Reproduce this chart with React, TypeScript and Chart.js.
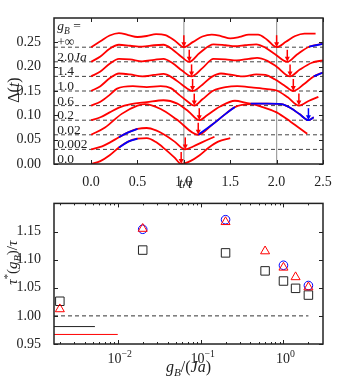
import React, { useEffect, useRef } from 'react';
import { Chart, registerables } from 'chart.js';
Chart.register(...registerables);

const FONT = '"Liberation Serif", "Times New Roman", serif';
const RED = '#ff0000';
const BLUE = '#0000ff';
const INK = '#222222';

// ---------- top panel data ----------
const offsets = [0, 0.03, 0.06, 0.09, 0.12, 0.15, 0.18, 0.21, 0.24];
const t0 = [0, 0.1, 0.2, 0.3, 0.4, 0.5, 0.6, 0.7, 0.8, 0.9, 0.971, 1.07, 1.17, 1.27, 1.37, 1.5];
const d0 = [0, 0.006, 0.018, 0.034, 0.046, 0.052, 0.053, 0.045, 0.03, 0.013, 0, 0.006, 0.018, 0.034, 0.046, 0.053];
const t1 = [0, 0.1, 0.2, 0.3, 0.4, 0.5, 0.6, 0.7, 0.8, 0.9, 1.015, 1.1, 1.2, 1.33];
const d1 = [0, 0.005, 0.014, 0.025, 0.035, 0.042, 0.044, 0.039, 0.029, 0.016, 0, 0.006, 0.015, 0.026];
const t2 = [0, 0.15, 0.33, 0.5, 0.58, 0.75, 0.92, 1.155, 1.3, 1.45, 1.55, 1.72, 1.85, 2.0, 2.15, 2.33];
const d2 = [0, 0.015, 0.043, 0.06, 0.063, 0.053, 0.032, 0, 0.02, 0.043, 0.057, 0.063, 0.057, 0.046, 0.027, 0.002];
const t3 = [0, 0.1, 0.2, 0.3, 0.43, 0.6, 0.78, 0.93, 1.05, 1.166, 1.25, 1.39, 1.55, 1.72, 1.9, 2.05, 2.15, 2.25, 2.343, 2.4];
const d3 = [0, 0.006, 0.016, 0.026, 0.033, 0.037, 0.041, 0.034, 0.018, 0, 0.01, 0.028, 0.04, 0.034, 0.034, 0.033, 0.025, 0.012, 0, 0.006];
const t4 = [0, 0.1, 0.2, 0.28, 0.45, 0.6, 0.75, 0.86, 0.95, 1.03, 1.112, 1.2, 1.32, 1.45, 1.575, 1.75, 1.9, 2.0, 2.12, 2.24, 2.35, 2.45];
const d4 = [0, 0.008, 0.022, 0.035, 0.04, 0.038, 0.04, 0.036, 0.022, 0.01, 0, 0.013, 0.031, 0.038, 0.04, 0.037, 0.034, 0.031, 0.017, 0, 0.01, 0.018];
const t5 = [0, 0.1, 0.2, 0.3, 0.42, 0.55, 0.68, 0.78, 0.88, 0.98, 1.094, 1.2, 1.3, 1.4, 1.52, 1.65, 1.78, 1.88, 1.98, 2.08, 2.18, 2.3, 2.4, 2.5];
const d5 = [0, 0.01, 0.026, 0.036, 0.034, 0.03, 0.033, 0.035, 0.027, 0.013, 0, 0.013, 0.029, 0.036, 0.033, 0.03, 0.034, 0.033, 0.024, 0.012, 0, 0.015, 0.03, 0.038];
const t6 = [0, 0.1, 0.2, 0.3, 0.42, 0.55, 0.68, 0.78, 0.88, 0.98, 1.083, 1.2, 1.32, 1.45, 1.57, 1.7, 1.79, 1.9, 2.0, 2.145, 2.25, 2.38, 2.5];
const d6 = [0, 0.01, 0.026, 0.036, 0.035, 0.031, 0.034, 0.036, 0.027, 0.012, 0, 0.017, 0.036, 0.035, 0.033, 0.036, 0.038, 0.032, 0.02, 0, 0.014, 0.028, 0.033];
const t7 = [0, 0.1, 0.2, 0.3, 0.42, 0.55, 0.68, 0.78, 0.88, 0.97, 1.058, 1.17, 1.32, 1.45, 1.55, 1.66, 1.78, 1.88, 1.98, 2.115, 2.22, 2.35, 2.5];
const d7 = [0, 0.011, 0.027, 0.035, 0.033, 0.031, 0.034, 0.035, 0.025, 0.011, 0, 0.018, 0.036, 0.034, 0.032, 0.034, 0.036, 0.029, 0.016, 0, 0.015, 0.031, 0.037];
const t8 = [0, 0.1, 0.2, 0.3, 0.4, 0.5, 0.6, 0.7, 0.8, 0.9, 1.0, 1.1, 1.2, 1.3, 1.4, 1.5, 1.6, 1.7, 1.8, 1.9, 2.0, 2.1, 2.2, 2.3, 2.42];
const d8 = [0, 0.012, 0.024, 0.029, 0.025, 0.021, 0.023, 0.027, 0.025, 0.014, 0, 0.011, 0.022, 0.026, 0.023, 0.018, 0.021, 0.026, 0.026, 0.015, 0, 0.011, 0.023, 0.028, 0.028];
const curveT = [t0, t1, t2, t3, t4, t5, t6, t7, t8];
const curveD = [d0, d1, d2, d3, d4, d5, d6, d7, d8];
// blue segments: [curve index, from t, to t]
const blueSegs: [number, number, number][] = [
  [0, 0.3, 0.5], [1, 0.3, 0.5], [2, 1.155, 1.55], [3, 1.72, 2.4], [5, 2.4, 2.5], [7, 2.35, 2.5],
];
// arrow times (tau*) per curve, and whether blue
const arrowT = [[0.971], [1.015], [1.155], [1.166, 2.343], [1.112, 2.24], [1.094, 2.18], [1.083, 2.145], [1.058, 2.115], [1.0, 2.0]];
const arrowBlue = [[0], [0], [0], [0, 1], [0, 0], [0, 0], [0, 0], [0, 0], [0, 0]];
const vLines = [1.0, 2.0];
const topXTicks = [0, 0.5, 1.0, 1.5, 2.0, 2.5];
const topYTicks = [0, 0.05, 0.1, 0.15, 0.2, 0.25];

type Seg = { t: string; i?: boolean; sub?: boolean; sup?: boolean };
const gLabels: Seg[][] = [
  [{ t: '0.0' }], [{ t: '0.002' }], [{ t: '0.02' }], [{ t: '0.2' }], [{ t: '0.6' }],
  [{ t: '1.0' }], [{ t: '1.4' }], [{ t: '2.0' }, { t: 'Ja', i: true }], [{ t: '+∞' }],
];
const gHeader: Seg[] = [{ t: 'g', i: true }, { t: 'B', i: true, sub: true }, { t: ' =' }];

// ---------- bottom panel data ----------
const gB = [0.002, 0.02, 0.2, 0.6, 1.0, 1.4, 2.0];
const squares = [1.026, 1.117, 1.112, 1.080, 1.062, 1.049, 1.037];
const triangles = [1.012, 1.155, 1.167, 1.115, 1.086, 1.069, 1.051];
const gCirc = [0.02, 0.2, 1.0, 2.0];
const circles = [1.154, 1.171, 1.090, 1.054];
const blackRef = { from: 0.0017, to: 0.0053, y: 0.981 };
const redRef = { from: 0.0017, to: 0.01, y: 0.967 };
const unityLine = { from: 0.0017, to: 2.0, y: 1.0 };
const botYTicks = [0.95, 1.0, 1.05, 1.1, 1.15];
const botXMajor = [0.01, 0.1, 1];
const botXMajorExp = ['−2', '−1', '0'];
const botXMinor = [0.002, 0.003, 0.004, 0.005, 0.006, 0.007, 0.008, 0.009,
  0.02, 0.03, 0.04, 0.05, 0.06, 0.07, 0.08, 0.09,
  0.2, 0.3, 0.4, 0.5, 0.6, 0.7, 0.8, 0.9, 2];

// ---------- helpers ----------
function segFont(s: Seg, size: number) {
  const sz = s.sub || s.sup ? size * 0.7 : size;
  return `${s.i ? 'italic ' : ''}${sz}px ${FONT}`;
}
function measureRich(ctx: CanvasRenderingContext2D, segs: Seg[], size: number) {
  let w = 0;
  for (const s of segs) { ctx.font = segFont(s, size); w += ctx.measureText(s.t).width; }
  return w;
}
function drawRich(ctx: CanvasRenderingContext2D, segs: Seg[], x: number, y: number, size: number, align: 'left' | 'center') {
  const w = measureRich(ctx, segs, size);
  let cx = align === 'center' ? x - w / 2 : x;
  ctx.textAlign = 'left';
  ctx.textBaseline = 'alphabetic';
  for (const s of segs) {
    ctx.font = segFont(s, size);
    const dy = s.sub ? size * 0.28 : s.sup ? -size * 0.42 : 0;
    ctx.fillText(s.t, cx, y + dy);
    cx += ctx.measureText(s.t).width;
  }
}
function frameAndTicks(ctx: CanvasRenderingContext2D, a: any, xs: any, ys: any, xMaj: number[], xMin: number[], yMaj: number[]) {
  ctx.strokeStyle = INK;
  ctx.lineWidth = 1;
  ctx.beginPath();
  const tick = (len: number) => (v: number) => {
    const px = Math.round(xs.getPixelForValue(v)) + 0.5;
    ctx.moveTo(px, a.bottom); ctx.lineTo(px, a.bottom - len);
    ctx.moveTo(px, a.top); ctx.lineTo(px, a.top + len);
  };
  xMaj.forEach(tick(4));
  xMin.forEach(tick(2));
  yMaj.forEach((v) => {
    const py = Math.round(ys.getPixelForValue(v)) + 0.5;
    ctx.moveTo(a.left, py); ctx.lineTo(a.left + 4, py);
    ctx.moveTo(a.right, py); ctx.lineTo(a.right - 4, py);
  });
  ctx.stroke();
  ctx.lineWidth = 1.5;
  ctx.strokeRect(a.left, a.top, a.right - a.left, a.bottom - a.top);
}

const topPlugin = {
  id: 'topDeco',
  afterDatasetsDraw(chart: any) {
    const { ctx, chartArea: a, scales: { x, y } } = chart;
    ctx.save();
    arrowT.forEach((list, i) => list.forEach((t, j) => {
      const px = x.getPixelForValue(t);
      const py = y.getPixelForValue(offsets[i]);
      const col = arrowBlue[i][j] ? BLUE : RED;
      ctx.strokeStyle = col; ctx.fillStyle = col; ctx.lineWidth = 1.5;
      ctx.beginPath(); ctx.moveTo(px, py - 12); ctx.lineTo(px, py - 4); ctx.stroke();
      ctx.beginPath(); ctx.moveTo(px - 2.5, py - 5); ctx.lineTo(px + 2.5, py - 5); ctx.lineTo(px, py); ctx.closePath(); ctx.fill();
    }));
    frameAndTicks(ctx, a, x, y, topXTicks, [], topYTicks);
    ctx.fillStyle = INK;
    gLabels.forEach((segs, i) => {
      drawRich(ctx, segs, x.getPixelForValue(-0.365), y.getPixelForValue(offsets[i] + 0.002), 13.5, 'left');
    });
    drawRich(ctx, gHeader, x.getPixelForValue(-0.365), y.getPixelForValue(0.275), 13.5, 'left');
    drawRich(ctx, [{ t: 't', i: true }, { t: '/' }, { t: 'τ', i: true }], (a.left + a.right) / 2 - 3, a.bottom + 24, 15, 'center');
    ctx.save();
    ctx.translate(19, (a.top + a.bottom) / 2 - 1);
    ctx.rotate(-Math.PI / 2);
    drawRich(ctx, [{ t: 'Δ' }, { t: '(' }, { t: 't', i: true }, { t: ')' }], 0, 0, 16, 'center');
    ctx.restore();
    ctx.restore();
  },
};

const botPlugin = {
  id: 'botDeco',
  afterDatasetsDraw(chart: any) {
    const { ctx, chartArea: a, scales: { x, y } } = chart;
    ctx.save();
    frameAndTicks(ctx, a, x, y, botXMajor, botXMinor, botYTicks);
    ctx.fillStyle = INK;
    botXMajor.forEach((v, i) => {
      drawRich(ctx, [{ t: '10' }, { t: botXMajorExp[i], sup: true }], x.getPixelForValue(v) + 2, a.bottom + 19, 14, 'center');
    });
    drawRich(ctx, [{ t: 'g', i: true }, { t: 'B', i: true, sub: true }, { t: '/(' }, { t: 'Ja', i: true }, { t: ')' }],
      (a.left + a.right) / 2, a.bottom + 28, 16, 'center');
    ctx.save();
    ctx.translate(17, (a.top + a.bottom) / 2 - 11);
    ctx.rotate(-Math.PI / 2);
    drawRich(ctx, [{ t: 'τ', i: true }, { t: '*', sup: true }, { t: '(' }, { t: 'g', i: true }, { t: 'B', i: true, sub: true }, { t: ')/' }, { t: 'τ', i: true }], 0, 0, 15, 'center');
    ctx.restore();
    ctx.restore();
  },
};

const tickFont = { family: FONT, size: 14 };

export default function App() {
  const topRef = useRef<HTMLCanvasElement>(null);
  const botRef = useRef<HTMLCanvasElement>(null);

  useEffect(() => {
    const datasets: any[] = [];
    vLines.forEach((v) => datasets.push({
      data: [{ x: v, y: 0 }, { x: v, y: 0.3 }], borderColor: '#a0a0a0', borderWidth: 1.2, pointRadius: 0, order: 4,
    }));
    offsets.slice(1).forEach((o) => datasets.push({
      data: [{ x: -0.4, y: o }, { x: 2.5, y: o }], borderColor: '#444', borderWidth: 1, borderDash: [4, 3], pointRadius: 0, order: 3,
    }));
    curveT.forEach((ts, i) => datasets.push({
      data: ts.map((t, k) => ({ x: t, y: offsets[i] + curveD[i][k] })),
      borderColor: RED, borderWidth: 1.8, pointRadius: 0, cubicInterpolationMode: 'monotone', order: 2,
    }));
    blueSegs.forEach(([ci, from, to]) => datasets.push({
      data: curveT[ci].map((t, k) => ({ x: t, y: offsets[ci] + curveD[ci][k] })).filter((p) => p.x >= from - 1e-9 && p.x <= to + 1e-9),
      borderColor: BLUE, borderWidth: 1.8, pointRadius: 0, cubicInterpolationMode: 'monotone', order: 1,
    }));

    const top = new Chart(topRef.current!, {
      type: 'line',
      data: { datasets },
      plugins: [topPlugin],
      options: {
        animation: false, responsive: false, events: [],
        plugins: { legend: { display: false }, tooltip: { enabled: false } },
        layout: { padding: { left: 0, right: 17, top: 18, bottom: 0 } },
        scales: {
          x: {
            type: 'linear', min: -0.4, max: 2.5,
            grid: { display: false }, border: { display: false },
            ticks: { font: tickFont, color: INK, padding: 2, autoSkip: false, maxRotation: 0, callback: (v: any) => Number(v).toFixed(1) },
            afterBuildTicks: (s: any) => { s.ticks = topXTicks.map((v) => ({ value: v })); },
            afterFit: (s: any) => { s.height = 26; },
          },
          y: {
            type: 'linear', min: 0, max: 0.3,
            grid: { display: false }, border: { display: false },
            ticks: { font: tickFont, color: INK, padding: 5, autoSkip: false, callback: (v: any) => Number(v).toFixed(2) },
            afterBuildTicks: (s: any) => { s.ticks = topYTicks.map((v) => ({ value: v })); },
            afterFit: (s: any) => { s.width = 54; },
          },
        },
      } as any,
    });

    const bot = new Chart(botRef.current!, {
      type: 'scatter',
      data: {
        datasets: [
          { data: gB.map((g, i) => ({ x: g, y: triangles[i] })), pointStyle: 'triangle', pointRadius: 5.2, borderColor: RED, backgroundColor: 'rgba(0,0,0,0)', borderWidth: 1, order: 1 },
          { data: gCirc.map((g, i) => ({ x: g, y: circles[i] })), pointStyle: 'circle', pointRadius: 4.3, borderColor: BLUE, backgroundColor: 'rgba(0,0,0,0)', borderWidth: 1, order: 2 },
          { data: gB.map((g, i) => ({ x: g, y: squares[i] })), pointStyle: 'rect', pointRadius: 6, borderColor: INK, backgroundColor: 'rgba(0,0,0,0)', borderWidth: 1, order: 3 },
          { data: [{ x: unityLine.from, y: unityLine.y }, { x: unityLine.to, y: unityLine.y }], showLine: true, borderColor: '#333', borderWidth: 1, borderDash: [4, 3], pointRadius: 0, order: 4 },
          { data: [{ x: blackRef.from, y: blackRef.y }, { x: blackRef.to, y: blackRef.y }], showLine: true, borderColor: '#222', borderWidth: 1, pointRadius: 0, order: 4 },
          { data: [{ x: redRef.from, y: redRef.y }, { x: redRef.to, y: redRef.y }], showLine: true, borderColor: RED, borderWidth: 1, pointRadius: 0, order: 4 },
        ],
      },
      plugins: [botPlugin],
      options: {
        animation: false, responsive: false, events: [],
        plugins: { legend: { display: false }, tooltip: { enabled: false } },
        layout: { padding: { left: 0, right: 17, top: 7, bottom: 0 } },
        scales: {
          x: {
            type: 'logarithmic', min: 0.0017, max: 3,
            grid: { display: false }, border: { display: false },
            ticks: { display: false },
            afterFit: (s: any) => { s.height = 34; },
          },
          y: {
            type: 'linear', min: 0.95, max: 1.2,
            grid: { display: false }, border: { display: false },
            ticks: { font: tickFont, color: INK, padding: 5, autoSkip: false, callback: (v: any) => Number(v).toFixed(2) },
            afterBuildTicks: (s: any) => { s.ticks = botYTicks.map((v) => ({ value: v })); },
            afterFit: (s: any) => { s.width = 54; },
          },
        },
      } as any,
    });

    return () => { top.destroy(); bot.destroy(); };
  }, []);

  return (
    <div style={{ position: 'absolute', left: 0, top: 0, width: 340, height: 378, background: '#fff' }}>
      <canvas ref={topRef} width={340} height={190} style={{ position: 'absolute', left: 0, top: 0, width: 340, height: 190 }} />
      <canvas ref={botRef} width={340} height={188} style={{ position: 'absolute', left: 0, top: 190, width: 340, height: 188 }} />
    </div>
  );
}
